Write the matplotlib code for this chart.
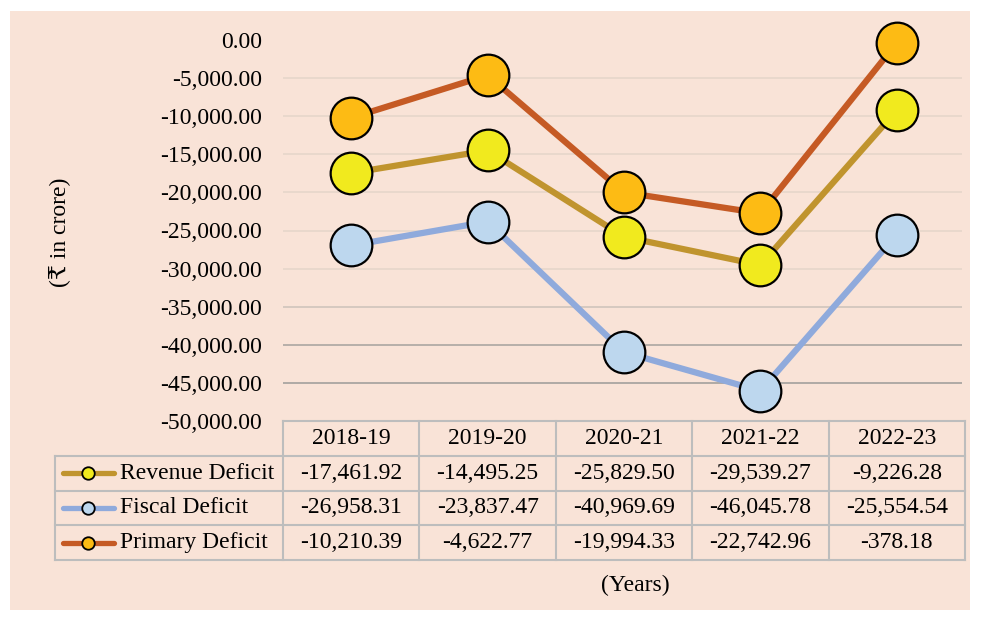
import matplotlib.pyplot as plt
from matplotlib.lines import Line2D

years = ["2018-19", "2019-20", "2020-21", "2021-22", "2022-23"]
revenue_deficit = [-17461.92, -14495.25, -25829.50, -29539.27, -9226.28]
fiscal_deficit = [-26958.31, -23837.47, -40969.69, -46045.78, -25554.54]
primary_deficit = [-10210.39, -4622.77, -19994.33, -22742.96, -378.18]
series_names = ["Revenue Deficit", "Fiscal Deficit", "Primary Deficit"]
y_ticks = list(range(0, -50001, -5000))

line_colors = ["#C0942E", "#8FAADC", "#C55A24"]
marker_colors = ["#F1EA1E", "#BDD7EE", "#FDBB14"]
bg = "#F9E3D7"
border = "#BDBDBD"

plt.rcParams['font.family'] = ['Liberation Serif', 'DejaVu Serif', 'DejaVu Sans']
plt.rcParams['font.size'] = 17

W, H = 981, 619
fig = plt.figure(figsize=(W / 100, H / 100), dpi=100)
fig.patch.set_facecolor("white")
fig.patches.append(plt.Rectangle((10 / W, 1 - 610 / H), 960 / W, 599 / H,
                                 transform=fig.transFigure, facecolor=bg,
                                 edgecolor="none", zorder=-10))

# main plot area
x0, x1 = 283, 965
ytop, ybot = 40, 421
ax = fig.add_axes([x0 / W, 1 - ybot / H, (x1 - x0) / W, (ybot - ytop) / H])
ax.set_facecolor("none")
ax.set_xlim(-0.5, len(years) - 0.5)
ax.set_ylim(-50000, 0)
for s in ax.spines.values():
    s.set_visible(False)
ax.set_xticks([])
ax.set_yticks(y_ticks)
ax.set_yticklabels([f"{v:,.2f}" for v in y_ticks])
ax.tick_params(axis="y", length=0, pad=15, labelsize=17)

grid_colors = ["#E6D6CA"] * 6 + ["#CFC4BC", "#ABA6A2", "#A3A09D"]
ax.hlines(y_ticks[1:-1], -0.5, len(years) - 0.52, colors=grid_colors, linewidth=1.2, zorder=1)

xs = range(len(years))
for vals, lc, mc in zip([revenue_deficit, fiscal_deficit, primary_deficit], line_colors, marker_colors):
    ax.plot(xs, vals, color=lc, linewidth=4.5, marker="o", markersize=30,
            markerfacecolor=mc, markeredgecolor="black", markeredgewidth=1.6,
            zorder=3, clip_on=False)

fig.text(59 / W, 1 - 232 / H, "(₹ in crore)", rotation=90, ha="center", va="center", fontsize=17)
fig.text(635 / W, 1 - 585 / H, "(Years)", ha="center", va="center", fontsize=17)

# data table
tx0, tbot = 55, 560
lab_w = (x0 - tx0) / ((x1 - x0) / len(years))
tab = fig.add_axes([tx0 / W, 1 - tbot / H, (x1 - tx0) / W, (tbot - ybot) / H])
tab.set_xlim(-0.5 - lab_w, len(years) - 0.5)
tab.set_ylim(4, 0)
tab.axis("off")
lx = -0.5 - lab_w
# horizontal borders
tab.plot([-0.5, len(years) - 0.5], [0, 0], color=border, lw=1.5, clip_on=False)
for r in range(1, 5):
    tab.plot([lx, len(years) - 0.5], [r, r], color=border, lw=1.5, clip_on=False)
# vertical borders
tab.plot([lx, lx], [1, 4], color=border, lw=1.5, clip_on=False)
for c in range(len(years) + 1):
    tab.plot([c - 0.5, c - 0.5], [0, 4], color=border, lw=1.5, clip_on=False)

for i, y in enumerate(years):
    tab.text(i, 0.5, y, ha="center", va="center", fontsize=17)
for r, (name, vals) in enumerate(zip(series_names, [revenue_deficit, fiscal_deficit, primary_deficit])):
    row = r + 1.5
    tab.add_line(Line2D([lx + 0.055, lx + 0.436], [row, row], color=line_colors[r], lw=3.8,
                        solid_capstyle="round"))
    tab.plot([lx + 0.242], [row], marker="o", markersize=9, markerfacecolor=marker_colors[r],
             markeredgecolor="black", markeredgewidth=1.3)
    tab.text(lx + 0.477, row, name, ha="left", va="center", fontsize=17)
    for i, v in enumerate(vals):
        tab.text(i, row, f"{v:,.2f}", ha="center", va="center", fontsize=17)

fig.savefig("out.png", dpi=100, facecolor="white")
